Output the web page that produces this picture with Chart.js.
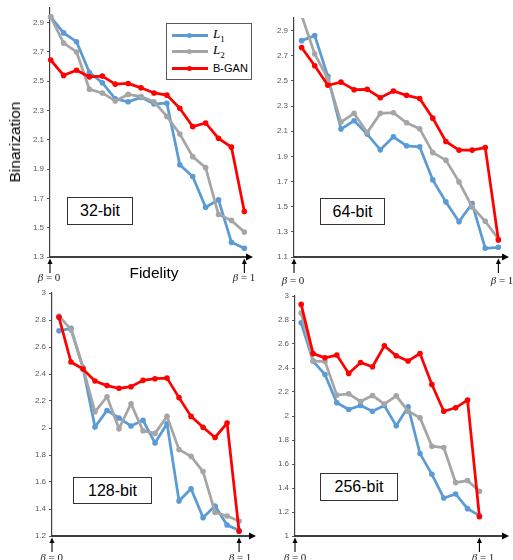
<!DOCTYPE html>
<html>
<head>
<meta charset="utf-8">
<script src="https://cdn.jsdelivr.net/npm/chart.js@4.4.1/dist/chart.umd.min.js"></script>
<style>
  body { margin:0; background:#fff; }
  #wrap { position:relative; width:513px; height:560px; background:#fff; overflow:hidden; }
  .cv { position:absolute; }
  .lbl { position:absolute; white-space:nowrap; transform:translate(-50%,-50%); }
  .beta { font-family:"Liberation Serif", serif; font-size:11px; color:#222; }
  .box { position:absolute; border:1px solid #333; background:#fff; font-family:"Liberation Sans", Arial, sans-serif; font-size:16px; color:#000; display:flex; align-items:center; justify-content:center; box-sizing:border-box; }
  .axt { font-family:"Liberation Sans", Arial, sans-serif; font-size:15.5px; color:#000; }
  #legend { position:absolute; left:166px; top:23px; width:86px; height:57px; border:1px solid #595959; box-sizing:border-box; background:#fff; }
  .lrow { position:absolute; left:5px; height:14px; }
  .lline { position:absolute; left:0; top:6px; width:36px; height:3px; }
  .ldot { position:absolute; left:15px; top:5px; width:5px; height:5px; border-radius:50%; }
  .ltxt { position:absolute; left:41px; top:0; white-space:nowrap; }
</style>
</head>
<body>
<div id="wrap"></div>
<script>
// ---------------- DATA ----------------
const fidelitySteps = [0,1,2,3,4,5,6,7,8,9,10,11,12,13,14,15];
const seriesNames = ["L1", "L2", "B-GAN"];
const seriesColors = ["#5B9BD5", "#A5A5A5", "#FF0000"];
const panelTitles = ["32-bit", "64-bit", "128-bit", "256-bit"];

const ticks32  = [1.3,1.5,1.7,1.9,2.1,2.3,2.5,2.7,2.9];
const ticks64  = [1.1,1.3,1.5,1.7,1.9,2.1,2.3,2.5,2.7,2.9];
const ticks128 = [1.2,1.4,1.6,1.8,2,2.2,2.4,2.6,2.8,3];
const ticks256 = [1,1.2,1.4,1.6,1.8,2,2.2,2.4,2.6,2.8,3];

const l1_32   = [2.94,2.83,2.77,2.56,2.49,2.38,2.36,2.39,2.345,2.35,1.93,1.85,1.64,1.69,1.40,1.36];
const l2_32   = [2.94,2.76,2.70,2.445,2.42,2.365,2.41,2.395,2.36,2.26,2.14,1.985,1.91,1.59,1.55,1.47];
const bgan_32 = [2.645,2.54,2.575,2.53,2.535,2.48,2.485,2.455,2.42,2.405,2.315,2.19,2.215,2.11,2.05,1.61];

const l1_64   = [2.82,2.86,2.536,2.117,2.183,2.077,1.952,2.056,1.984,1.976,1.713,1.538,1.381,1.525,1.169,1.177];
const l2_64   = [3.02,2.714,2.518,2.173,2.242,2.09,2.242,2.247,2.167,2.12,1.93,1.87,1.697,1.498,1.384,1.243];
const bgan_64 = [2.765,2.62,2.465,2.49,2.43,2.433,2.366,2.42,2.385,2.36,2.204,2.018,1.95,1.95,1.97,1.235];

const l1_128   = [2.72,2.738,2.447,2.007,2.13,2.074,2.015,2.057,1.889,2.032,1.459,1.55,1.336,1.422,1.281,1.242];
const l2_128   = [2.83,2.728,2.447,2.12,2.232,1.995,2.18,1.98,1.96,2.086,1.84,1.79,1.677,1.375,1.348,1.311];
const bgan_128 = [2.82,2.489,2.437,2.348,2.314,2.294,2.306,2.353,2.365,2.37,2.225,2.086,2.005,1.93,2.037,1.235];

const l1_256   = [2.777,2.458,2.346,2.11,2.054,2.087,2.04,2.087,1.918,2.076,1.687,1.514,1.317,1.35,1.228,1.17];
const l2_256   = [2.858,2.458,2.455,2.174,2.185,2.121,2.171,2.099,2.168,2.04,1.985,1.748,1.737,1.445,1.462,1.373];
const bgan_256 = [2.93,2.52,2.485,2.508,2.355,2.446,2.41,2.585,2.502,2.458,2.52,2.263,2.04,2.068,2.132,1.161];

// ---------------- LAYOUT ----------------
const panels = [
  {left:0,   top:0,   w:260, h:275, yW:50, pad:{left:0,top:8, right:7,  bottom:18}, yMin:1.3, yMax:3.0, xMin:-0.054, xMax:15.67, ticks:ticks32,  series:[l1_32,l2_32,bgan_32],
   box:{x:67,y:197,w:66,h:28}, b0:[49,277], b1:[244,277]},
  {left:260, top:0,   w:253, h:275, yW:34, pad:{left:0,top:18,right:1.5,bottom:18}, yMin:1.1, yMax:3.0, xMin:-0.58, xMax:15.81, ticks:ticks64,  series:[l1_64,l2_64,bgan_64],
   box:{x:320,y:198,w:65,h:27}, b0:[293,279.5], b1:[502,279.5]},
  {left:0,   top:280, w:260, h:280, yW:52, pad:{left:0,top:13,right:3,  bottom:24}, yMin:1.2, yMax:3.0, xMin:-0.58, xMax:16.41, ticks:ticks128, series:[l1_128,l2_128,bgan_128],
   box:{x:73,y:477,w:79,h:27}, b0:[51.7,556.5], b1:[240,556.5]},
  {left:260, top:280, w:253, h:280, yW:35, pad:{left:0,top:16,right:1,  bottom:24}, yMin:1.0, yMax:3.0, xMin:-0.52, xMax:17.49, ticks:ticks256, series:[l1_256,l2_256,bgan_256],
   box:{x:320,y:473,w:78,h:28}, b0:[295,556.5], b1:[483,556.5]}
];

const wrap = document.getElementById('wrap');

const axisPlugin = {
  id: 'axisArrows',
  afterDatasetsDraw(chart) {
    const {ctx, chartArea:{left,right,bottom}} = chart;
    const xs = chart.scales.x;
    ctx.save();
    ctx.strokeStyle = '#000'; ctx.fillStyle = '#000';
    // x axis with arrow
    ctx.lineWidth = 1.5;
    ctx.beginPath(); ctx.moveTo(left, bottom); ctx.lineTo(right - 5, bottom); ctx.stroke();
    ctx.beginPath(); ctx.moveTo(right, bottom); ctx.lineTo(right - 7, bottom - 3.5); ctx.lineTo(right - 7, bottom + 3.5); ctx.closePath(); ctx.fill();
    // beta arrows
    const lastX = xs.getPixelForValue(fidelitySteps[fidelitySteps.length - 1]);
    for (const px of [left, lastX]) {
      ctx.lineWidth = 1.1;
      ctx.beginPath(); ctx.moveTo(px, bottom + 16); ctx.lineTo(px, bottom + 5); ctx.stroke();
      ctx.beginPath(); ctx.moveTo(px, bottom + 1.5); ctx.lineTo(px - 2.5, bottom + 7); ctx.lineTo(px + 2.5, bottom + 7); ctx.closePath(); ctx.fill();
    }
    ctx.restore();
  }
};

panels.forEach((p, pi) => {
  const holder = document.createElement('div');
  holder.className = 'cv';
  holder.style.left = p.left + 'px'; holder.style.top = p.top + 'px';
  const cv = document.createElement('canvas');
  cv.width = p.w; cv.height = p.h;
  cv.style.width = p.w + 'px'; cv.style.height = p.h + 'px';
  holder.appendChild(cv);
  wrap.appendChild(holder);

  const datasets = p.series.map((vals, si) => ({
    label: seriesNames[si],
    data: vals.map((v, i) => ({x: fidelitySteps[i], y: v})),
    borderColor: seriesColors[si],
    backgroundColor: seriesColors[si],
    pointBackgroundColor: seriesColors[si],
    pointBorderColor: seriesColors[si],
    pointRadius: 2.8,
    pointBorderWidth: 0,
    borderWidth: 2.75,
    tension: 0,
    order: 3 - si,
    clip: {left: 10, top: 0, right: 10, bottom: 10}
  }));

  new Chart(cv, {
    type: 'line',
    data: { datasets },
    options: {
      responsive: false,
      animation: false,
      devicePixelRatio: 1,
      layout: { padding: p.pad },
      plugins: { legend: {display:false}, tooltip: {enabled:false} },
      scales: {
        x: { type:'linear', display:false, min:p.xMin, max:p.xMax },
        y: {
          type:'linear', min:p.yMin, max:p.yMax,
          afterFit(scale) { scale.width = p.yW; },
          afterBuildTicks(scale) { scale.ticks = p.ticks.map(v => ({value:v})); },
          ticks: {
            padding: 3,
            font: {family:'Liberation Sans', size:8},
            color: '#595959',
            autoSkip: false,
            callback: v => String(Math.round(v * 10) / 10)
          },
          grid: { display:true, drawOnChartArea:false, drawTicks:true, tickLength:3, tickColor:'#595959', color:'#595959' },
          border: { display:true, color:'#404040', width:1.2 }
        }
      }
    },
    plugins: [axisPlugin]
  });

  // panel title box
  const b = document.createElement('div');
  b.className = 'box';
  b.style.left = p.box.x + 'px'; b.style.top = p.box.y + 'px';
  b.style.width = p.box.w + 'px'; b.style.height = p.box.h + 'px';
  b.textContent = panelTitles[pi];
  wrap.appendChild(b);

  // beta labels
  [[p.b0, '0'], [p.b1, '1']].forEach(([pos, v]) => {
    const d = document.createElement('div');
    d.className = 'lbl beta';
    d.style.left = pos[0] + 'px'; d.style.top = pos[1] + 'px';
    d.innerHTML = '<i>β</i> = ' + v;
    wrap.appendChild(d);
  });
});

// axis titles
const yt = document.createElement('div');
yt.className = 'lbl axt';
yt.style.left = '15px'; yt.style.top = '142px';
yt.style.transform = 'translate(-50%,-50%) rotate(-90deg)';
yt.textContent = 'Binarization';
wrap.appendChild(yt);

const xt = document.createElement('div');
xt.className = 'lbl axt';
xt.style.left = '154px'; xt.style.top = '273px';
xt.textContent = 'Fidelity';
wrap.appendChild(xt);

// legend
const lg = document.createElement('div');
lg.id = 'legend';
const rowsY = [4, 20, 37];
seriesNames.forEach((name, si) => {
  const r = document.createElement('div');
  r.className = 'lrow';
  r.style.top = rowsY[si] + 'px';
  const ln = document.createElement('div'); ln.className = 'lline'; ln.style.background = seriesColors[si];
  const dt = document.createElement('div'); dt.className = 'ldot'; dt.style.background = seriesColors[si];
  const tx = document.createElement('div'); tx.className = 'ltxt';
  if (name === 'B-GAN') {
    tx.style.fontFamily = '"Liberation Sans", Arial, sans-serif';
    tx.style.fontSize = '11px'; tx.style.top = '1px';
    tx.textContent = name;
  } else {
    tx.style.fontFamily = '"Liberation Serif", serif';
    tx.style.fontSize = '13px'; tx.style.top = '-2px';
    tx.innerHTML = '<i>' + name[0] + '</i><sub style="font-size:9px;font-style:normal">' + name.slice(1) + '</sub>';
  }
  r.appendChild(ln); r.appendChild(dt); r.appendChild(tx);
  lg.appendChild(r);
});
wrap.appendChild(lg);
</script>
</body>
</html>
